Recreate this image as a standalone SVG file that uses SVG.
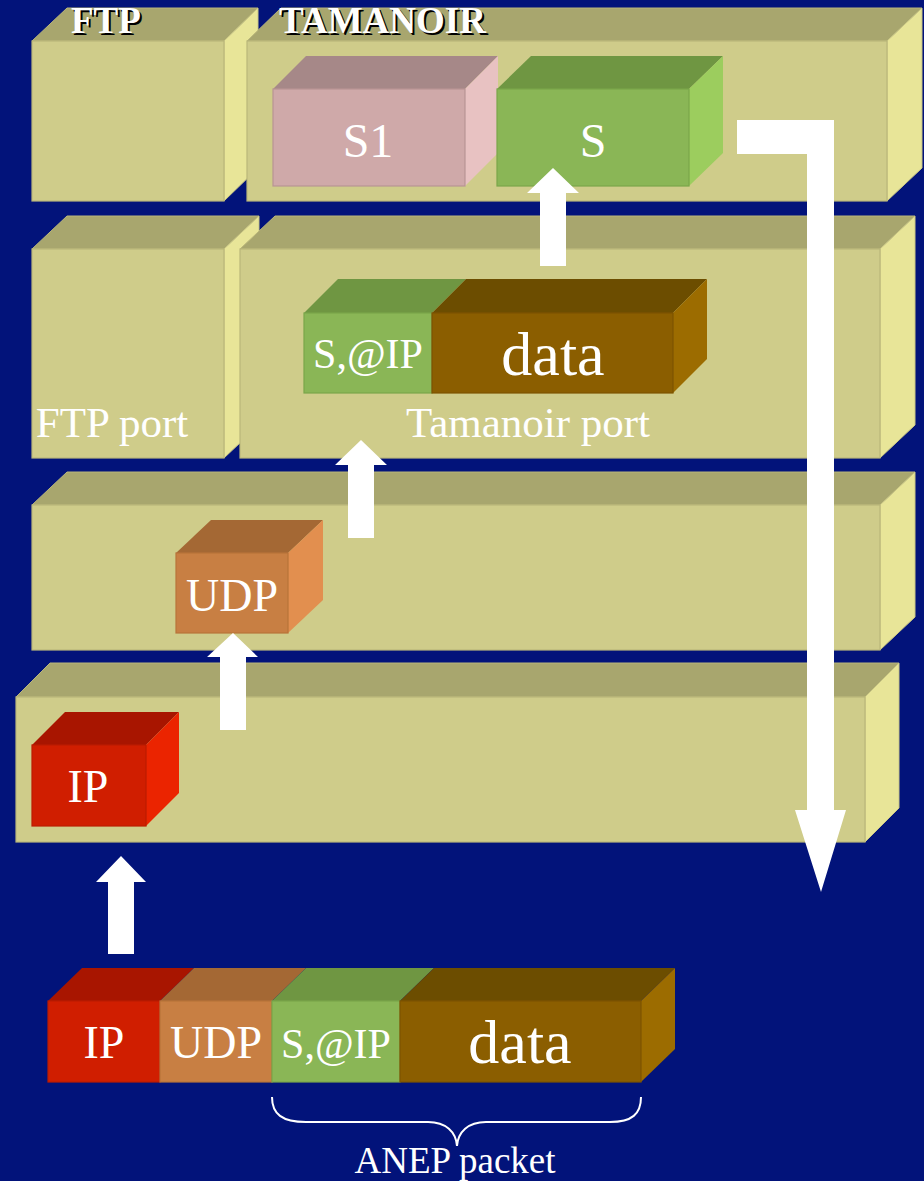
<svg xmlns="http://www.w3.org/2000/svg" width="924" height="1181" viewBox="0 0 924 1181">
  <style>
    .bg { fill: #02137A; }
    .lf { fill: #CFCC8A; stroke: #B9B67A; stroke-width: 1.2; }
    .lt { fill: #A8A66E; stroke: #B9B67A; stroke-width: 1; }
    .lr { fill: #E8E598; stroke: #C9C684; stroke-width: 1; }
    .pf { fill: #CFA9A9; stroke: #B89494; stroke-width: 1.2; }
    .pt { fill: #A68888; }
    .pr { fill: #E8C2C2; }
    .gf { fill: #8AB656; stroke: #7AA64A; stroke-width: 1.2; }
    .gt { fill: #6F9642; }
    .gr { fill: #9CCD5E; }
    .bf { fill: #8B5E00; stroke: #7E5400; stroke-width: 1.2; }
    .bt { fill: #6C4D00; }
    .br { fill: #9C6C00; }
    .of { fill: #C87F43; stroke: #B8733A; stroke-width: 1.2; }
    .ot { fill: #A46834; }
    .or { fill: #E28F4F; }
    .rf { fill: #D01E00; stroke: #BC1B00; stroke-width: 1.2; }
    .rt { fill: #A81500; }
    .rr { fill: #EB2400; }
    .lbl { font-family: "Liberation Serif", "Times New Roman", serif; fill: #FFFFFF; text-anchor: middle; }
    .title { font-family: "Liberation Serif", "Times New Roman", serif; font-weight: bold; font-size: 37px; }
    .arrow { fill: #FFFFFF; }
  </style>

  <rect class="bg" x="0" y="0" width="924" height="1181"/>

  <!-- Top layer: FTP and TAMANOIR applications -->
  <g id="ftp-app">
    <polygon class="lt" points="32,41 224,41 258,8 67,8"/>
    <polygon class="lr" points="224,41 258,8 258,168 224,201"/>
    <rect class="lf" x="32" y="41" width="192" height="160"/>
    <text class="title" x="73" y="35" fill="#000000">FTP</text>
    <text class="title" x="71" y="33" fill="#FFFFFF">FTP</text>
  </g>
  <g id="tamanoir-app">
    <polygon class="lt" points="247,41 887,41 922,8 281,8"/>
    <polygon class="lr" points="887,41 922,8 922,168 887,201"/>
    <rect class="lf" x="247" y="41" width="640" height="160"/>
    <text class="title" x="281" y="35" fill="#000000">TAMANOIR</text>
    <text class="title" x="279" y="33" fill="#FFFFFF">TAMANOIR</text>
  </g>
  <g id="service-s1">
    <polygon class="pt" points="273,89 465,89 498,56 306,56"/>
    <polygon class="pr" points="465,89 498,56 498,153 465,186"/>
    <rect class="pf" x="273" y="89" width="192" height="97"/>
    <text class="lbl" x="368" y="157" font-size="48">S1</text>
  </g>
  <g id="service-s">
    <polygon class="gt" points="497,89 689,89 723,56 531,56"/>
    <polygon class="gr" points="689,89 723,56 723,153 689,186"/>
    <rect class="gf" x="497" y="89" width="192" height="97"/>
    <text class="lbl" x="593" y="157" font-size="48">S</text>
  </g>

  <!-- Port layer -->
  <g id="ftp-port">
    <polygon class="lt" points="32,249 224,249 259,216 67,216"/>
    <polygon class="lr" points="224,249 259,216 259,425 224,458"/>
    <rect class="lf" x="32" y="249" width="192" height="209"/>
    <text class="lbl" x="112" y="437" font-size="43">FTP port</text>
  </g>
  <g id="tamanoir-port">
    <polygon class="lt" points="240,249 880,249 915,216 275,216"/>
    <polygon class="lr" points="880,249 915,216 915,425 880,458"/>
    <rect class="lf" x="240" y="249" width="640" height="209"/>
    <text class="lbl" x="528" y="437" font-size="43">Tamanoir port</text>
  </g>
  <g id="port-header">
    <polygon class="gt" points="304,313 432,313 466,279 338,279"/>
    <rect class="gf" x="304" y="313" width="128" height="80"/>
    <text class="lbl" x="368" y="368" font-size="42">S,@IP</text>
  </g>
  <g id="port-data">
    <polygon class="bt" points="432,313 673,313 707,279 466,279"/>
    <polygon class="br" points="673,313 707,279 707,359 673,393"/>
    <rect class="bf" x="432" y="313" width="241" height="80"/>
    <text class="lbl" x="553" y="375" font-size="62">data</text>
  </g>

  <!-- Transport layer -->
  <g id="transport-layer">
    <polygon class="lt" points="32,505 880,505 915,472 67,472"/>
    <polygon class="lr" points="880,505 915,472 915,617 880,650"/>
    <rect class="lf" x="32" y="505" width="848" height="145"/>
  </g>
  <g id="udp">
    <polygon class="ot" points="176,553 288,553 323,520 211,520"/>
    <polygon class="or" points="288,553 323,520 323,600 288,633"/>
    <rect class="of" x="176" y="553" width="112" height="80"/>
    <text class="lbl" x="232" y="611" font-size="46">UDP</text>
  </g>

  <!-- Network layer -->
  <g id="network-layer">
    <polygon class="lt" points="16,697 865,697 899,663 50,663"/>
    <polygon class="lr" points="865,697 899,663 899,808 865,842"/>
    <rect class="lf" x="16" y="697" width="849" height="145"/>
  </g>
  <g id="ip">
    <polygon class="rt" points="32,745 146,745 179,712 65,712"/>
    <polygon class="rr" points="146,745 179,712 179,793 146,826"/>
    <rect class="rf" x="32" y="745" width="114" height="81"/>
    <text class="lbl" x="88" y="802" font-size="46">IP</text>
  </g>

  <!-- Incoming packet -->
  <g id="packet-ip">
    <polygon class="rt" points="48,1001 160,1001 194,968 82,968"/>
    <rect class="rf" x="48" y="1001" width="112" height="81"/>
    <text class="lbl" x="104" y="1058" font-size="46">IP</text>
  </g>
  <g id="packet-udp">
    <polygon class="ot" points="160,1001 272,1001 306,968 194,968"/>
    <rect class="of" x="160" y="1001" width="112" height="81"/>
    <text class="lbl" x="216" y="1058" font-size="46">UDP</text>
  </g>
  <g id="packet-header">
    <polygon class="gt" points="272,1001 400,1001 434,968 306,968"/>
    <rect class="gf" x="272" y="1001" width="128" height="81"/>
    <text class="lbl" x="336" y="1058" font-size="42">S,@IP</text>
  </g>
  <g id="packet-data">
    <polygon class="bt" points="400,1001 641,1001 675,968 434,968"/>
    <polygon class="br" points="641,1001 675,968 675,1049 641,1082"/>
    <rect class="bf" x="400" y="1001" width="241" height="81"/>
    <text class="lbl" x="520" y="1063" font-size="62">data</text>
  </g>
  <g id="anep-brace">
    <path d="M272,1097 C272,1114 282,1122 306,1122 L428,1122 C446,1122 456,1132 457,1146 C458,1132 468,1122 486,1122 L610,1122 C632,1122 641,1114 641,1097" fill="none" stroke="#FFFFFF" stroke-width="2"/>
    <text class="lbl" x="455" y="1173" font-size="37">ANEP packet</text>
  </g>

  <!-- Connectors -->
  <g id="connectors">
    <polygon class="arrow" points="121,856 146,882 134,882 134,954 108,954 108,882 96,882"/>
    <polygon class="arrow" points="233,633 258,657 246,657 246,730 220,730 220,657 207,657"/>
    <polygon class="arrow" points="361,440 387,465 374,465 374,538 348,538 348,465 335,465"/>
    <polygon class="arrow" points="553,168 579,193 566,193 566,266 540,266 540,193 527,193"/>
    <polygon class="arrow" points="737,120 834,120 834,810 846,810 821,892 795,810 807,810 807,154 737,154"/>
  </g>
</svg>
